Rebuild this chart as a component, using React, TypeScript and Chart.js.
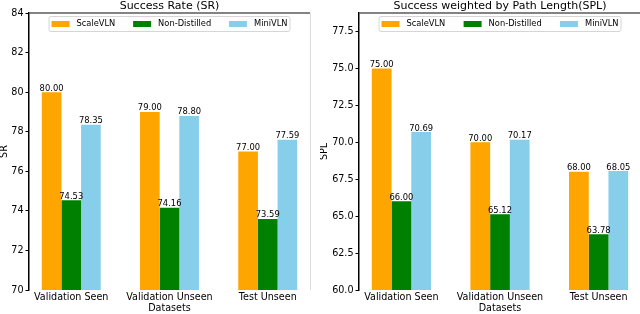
import React, { useEffect, useRef } from 'react';
import { Chart, registerables } from 'chart.js';

Chart.register(...registerables);
Chart.defaults.font.family = '"DejaVu Sans", sans-serif';
Chart.defaults.color = '#000';

const categories = ['Validation Seen', 'Validation Unseen', 'Test Unseen'];
const seriesNames = ['ScaleVLN', 'Non-Distilled', 'MiniVLN'];
const seriesColors = ['#FFA500', '#008000', '#87CEEB'];

const srScaleVLN = [80.0, 79.0, 77.0];
const srNonDistilled = [74.53, 74.16, 73.59];
const srMiniVLN = [78.35, 78.8, 77.59];

const splScaleVLN = [75.0, 70.0, 68.0];
const splNonDistilled = [66.0, 65.12, 63.78];
const splMiniVLN = [70.69, 70.17, 68.05];

const valueLabelsPlugin = {
  id: 'valueLabels',
  afterDatasetsDraw(chart: any) {
    const { ctx } = chart;
    ctx.save();
    ctx.font = '8.4px "DejaVu Sans"';
    ctx.fillStyle = '#000';
    ctx.textAlign = 'center';
    ctx.textBaseline = 'alphabetic';
    chart.data.datasets.forEach((ds: any, di: number) => {
      const meta = chart.getDatasetMeta(di);
      meta.data.forEach((bar: any, i: number) => {
        const v = ds.data[i].y;
        ctx.fillText(v.toFixed(2), bar.x, bar.y - 1.5);
      });
    });
    ctx.restore();
  },
};

const framePlugin = {
  id: 'frameLines',
  afterDraw(chart: any) {
    const { ctx, chartArea: a } = chart;
    ctx.save();
    ctx.strokeStyle = '#dcdcdc';
    ctx.lineWidth = 1;
    ctx.beginPath();
    ctx.moveTo(a.right + 0.5, a.top);
    ctx.lineTo(a.right + 0.5, a.bottom);
    ctx.stroke();
    ctx.strokeStyle = '#5a5a5a';
    ctx.lineWidth = 1.5;
    ctx.beginPath();
    ctx.moveTo(a.left, a.top);
    ctx.lineTo(a.right, a.top);
    ctx.stroke();
    ctx.restore();
  },
};

const legendBoxPlugin = {
  id: 'legendBox',
  afterDraw(chart: any) {
    const { ctx, chartArea: a } = chart;
    const left = a.left + 19.5;
    const right = a.right - 20.5;
    const top = a.top + 3;
    const h = 15;
    const sw = 18;
    const gapT = 7;
    const padL = 3;
    const padR = 2;
    ctx.save();
    ctx.font = '8.3px "DejaVu Sans"';
    const items = chart.data.datasets.map((ds: any) => ({
      label: ds.label,
      color: ds.backgroundColor,
      w: sw + gapT + ctx.measureText(ds.label).width,
    }));
    const total = items.reduce((s: number, it: any) => s + it.w, 0);
    const gap = (right - left - padL - padR - total) / (items.length - 1);
    ctx.beginPath();
    if (ctx.roundRect) ctx.roundRect(left + 0.5, top + 0.5, right - left, h, 2);
    else ctx.rect(left + 0.5, top + 0.5, right - left, h);
    ctx.fillStyle = 'rgba(255,255,255,0.8)';
    ctx.fill();
    ctx.strokeStyle = '#d6d6d6';
    ctx.lineWidth = 1;
    ctx.stroke();
    let x = left + padL;
    const cy = top + h / 2 + 0.5;
    items.forEach((it: any) => {
      ctx.fillStyle = it.color;
      ctx.fillRect(x, cy - 3, sw, 6);
      ctx.fillStyle = '#000';
      ctx.textAlign = 'left';
      ctx.textBaseline = 'middle';
      ctx.fillText(it.label, x + sw + gapT, cy);
      x += it.w + gap;
    });
    ctx.restore();
  },
};

function makeConfig(opts: {
  title: string;
  yLabel: string;
  yMin: number;
  yMax: number;
  yStep: number;
  decimals: number;
  axisWidth: number;
  padRight: number;
  series: number[][];
}): any {
  return {
    type: 'bar',
    data: {
      datasets: opts.series.map((vals, si) => ({
        label: seriesNames[si],
        data: vals.map((v, i) => ({ x: i, y: v })),
        backgroundColor: seriesColors[si],
        borderWidth: 0,
        categoryPercentage: 0.6,
        barPercentage: 1,
      })),
    },
    options: {
      responsive: false,
      animation: false,
      devicePixelRatio: 1,
      layout: { padding: { left: 0, right: opts.padRight, top: 0, bottom: 0 } },
      plugins: {
        legend: { display: false },
        tooltip: { enabled: false },
        title: {
          display: true,
          text: opts.title,
          fullSize: false,
          color: '#000',
          font: { size: 11, weight: 'normal', lineHeight: 13 / 11 },
          padding: 0,
        },
      },
      scales: {
        x: {
          type: 'linear',
          offset: false,
          min: -0.43,
          max: 2.43,
          afterBuildTicks: (s: any) => {
            s.ticks = categories.map((_, i) => ({ value: i }));
          },
          afterFit: (s: any) => {
            s.height = 24;
          },
          ticks: {
            autoSkip: false,
            maxRotation: 0,
            padding: 2,
            color: '#000',
            font: { size: 9.6 },
            callback: (v: any) => categories[Math.round(Number(v))],
          },
          grid: { display: false, drawTicks: false },
          border: { display: false },
          title: {
            display: true,
            text: 'Datasets',
            color: '#000',
            font: { size: 9.6, lineHeight: 1.15 },
            padding: 0,
          },
        },
        y: {
          type: 'linear',
          min: opts.yMin,
          max: opts.yMax,
          afterFit: (s: any) => {
            s.width = opts.axisWidth;
          },
          ticks: {
            stepSize: opts.yStep,
            includeBounds: false,
            padding: 2,
            color: '#000',
            font: { size: 9.6 },
            callback: (v: any) => Number(v).toFixed(opts.decimals),
          },
          grid: {
            drawOnChartArea: false,
            drawTicks: true,
            tickLength: 3.5,
            color: '#000',
          },
          border: { display: true, color: '#000', width: 1.5 },
          title: {
            display: true,
            text: opts.yLabel,
            color: '#000',
            font: { size: 9.6, lineHeight: 1 },
            padding: 0,
          },
        },
      },
    },
    plugins: [framePlugin, valueLabelsPlugin, legendBoxPlugin],
  };
}

export default function App() {
  const leftRef = useRef<HTMLCanvasElement>(null);
  const rightRef = useRef<HTMLCanvasElement>(null);

  useEffect(() => {
    const c1 = new Chart(
      leftRef.current as HTMLCanvasElement,
      makeConfig({
        title: 'Success Rate (SR)',
        yLabel: 'SR',
        yMin: 70,
        yMax: 84,
        yStep: 2,
        decimals: 0,
        axisWidth: 29,
        padRight: 10,
        series: [srScaleVLN, srNonDistilled, srMiniVLN],
      })
    );
    const c2 = new Chart(
      rightRef.current as HTMLCanvasElement,
      makeConfig({
        title: 'Success weighted by Path Length(SPL)',
        yLabel: 'SPL',
        yMin: 60,
        yMax: 78.75,
        yStep: 2.5,
        decimals: 1,
        axisWidth: 39,
        padRight: 0,
        series: [splScaleVLN, splNonDistilled, splMiniVLN],
      })
    );
    return () => {
      c1.destroy();
      c2.destroy();
    };
  }, []);

  return (
    <div
      style={{
        position: 'absolute',
        left: 0,
        top: 0,
        width: 640,
        height: 314,
        overflow: 'hidden',
        background: '#fff',
      }}
    >
      <canvas ref={leftRef} width={320} height={314} style={{ position: 'absolute', left: 0, top: 0 }} />
      <canvas ref={rightRef} width={321} height={314} style={{ position: 'absolute', left: 320, top: 0 }} />
    </div>
  );
}
